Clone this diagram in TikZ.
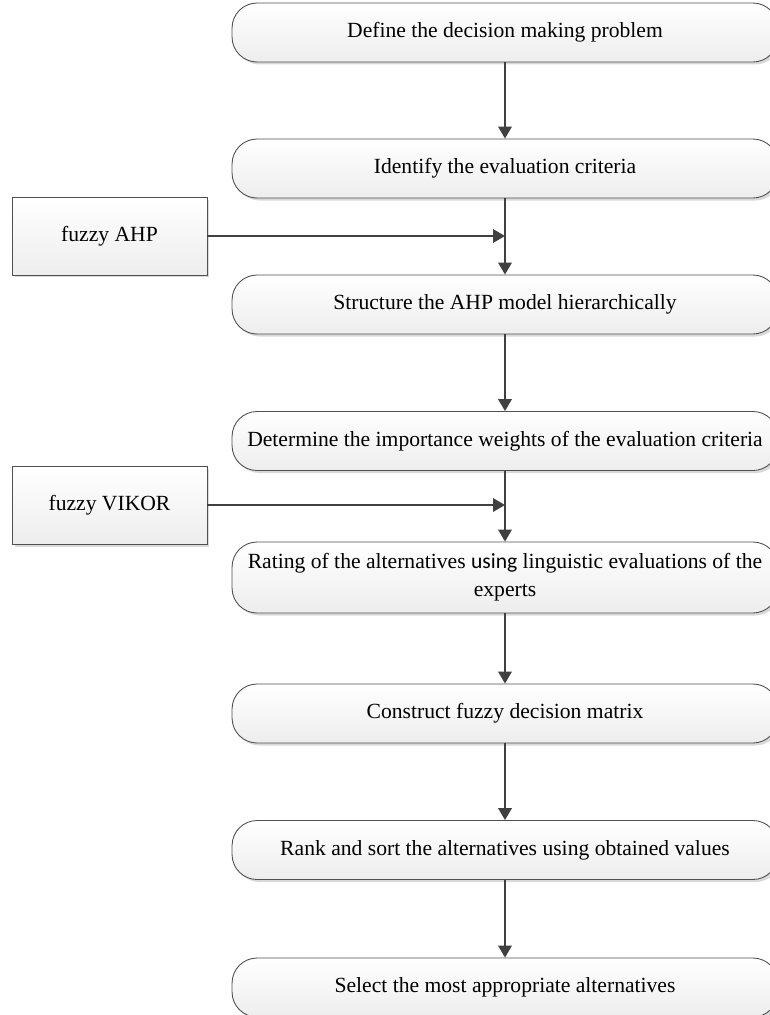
\documentclass[tikz,border=0pt]{standalone}
\usepackage{fontspec}
\setmainfont{Liberation Serif}
\newfontfamily\usingfont{Carlito}
\usetikzlibrary{shapes,positioning,arrows.meta,shadows,calc}
\definecolor{linegray}{RGB}{64,64,64}
\definecolor{boxline}{RGB}{80,80,80}

\begin{document}
\begin{tikzpicture}[x=0.02cm, y=-0.02cm,
   stepbox/.style={draw=boxline, line width=0.5pt, rounded corners=0.5cm, top color=white, bottom color=gray!14,
     minimum width=10.92cm, minimum height=1.18cm, inner sep=0pt, align=center,
     font=\fontsize{12.3}{15.9}\selectfont,
     drop shadow={shadow xshift=0.05cm, shadow yshift=-0.05cm, fill=gray!30, opacity=1}},
   methodbox/.style={draw=boxline, line width=0.5pt, top color=white, bottom color=gray!14,
     minimum width=3.9cm, minimum height=1.56cm, inner sep=0pt,
     font=\fontsize{12.3}{15.9}\selectfont,
     drop shadow={shadow xshift=0.05cm, shadow yshift=-0.05cm, fill=gray!30, opacity=1}},
   flow/.style={draw=linegray, line width=1.1pt, -{Triangle[length=0.24cm,width=0.27cm]}}]
   \useasboundingbox (0,0) rectangle (770,1015);
   \clip (0,0) rectangle (770,1015);
   \node[stepbox] (define) at (505,32.5) {Define the decision making problem};
   \node[stepbox] (identify) at (505,168.5) {Identify the evaluation criteria};
   \node[stepbox] (structure) at (505,304.5) {Structure the AHP model hierarchically};
   \node[stepbox] (weights) at (505,441) {Determine the importance weights of the evaluation criteria};
   \node[stepbox, minimum height=1.42cm] (rating) at (505,577.5)
     {Rating of the alternatives {\usingfont using} linguistic evaluations of the\\experts};
   \node[stepbox] (matrix) at (505,713.5) {Construct fuzzy decision matrix};
   \node[stepbox] (rank) at (505,850) {Rank and sort the alternatives using obtained values};
   \node[stepbox] (select) at (505,987.5) {Select the most appropriate alternatives};
   \node[methodbox] (ahp) at (109.5,236) {fuzzy AHP};
   \node[methodbox] (vikor) at (109.5,505) {fuzzy VIKOR};
   \coordinate (ahpin) at (identify.south |- ahp.east);
   \coordinate (vikorin) at (weights.south |- vikor.east);
   \draw[flow] (define.south) -- (identify.north);
   \draw[flow] (identify.south) -- (structure.north);
   \draw[flow] (structure.south) -- (weights.north);
   \draw[flow] (weights.south) -- (rating.north);
   \draw[flow] (rating.south) -- (matrix.north);
   \draw[flow] (matrix.south) -- (rank.north);
   \draw[flow] (rank.south) -- (select.north);
   \draw[flow] (ahp.east) -- (ahpin);
   \draw[flow] (vikor.east) -- (vikorin);
\end{tikzpicture}
\end{document}
